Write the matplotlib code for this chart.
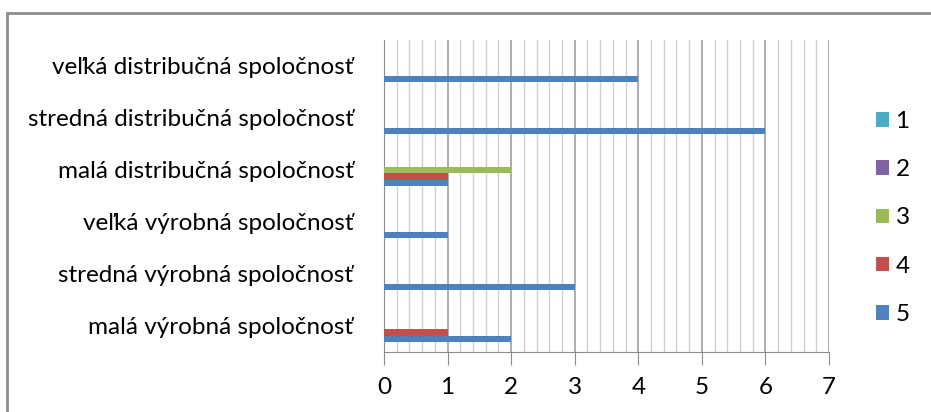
import numpy as np
import matplotlib.pyplot as plt
from matplotlib.patches import Rectangle

categories = ["malá výrobná spoločnosť", "stredná výrobná spoločnosť", "veľká výrobná spoločnosť",
              "malá distribučná spoločnosť", "stredná distribučná spoločnosť", "veľká distribučná spoločnosť"]
series_names = ["1", "2", "3", "4", "5"]
s1 = [0, 0, 0, 0, 0, 0]
s2 = [0, 0, 0, 0, 0, 0]
s3 = [0, 0, 0, 2, 0, 0]
s4 = [1, 0, 0, 1, 0, 0]
s5 = [2, 3, 1, 1, 6, 4]
colors = ["#4BACC6", "#8064A2", "#9BBB59", "#C0504D", "#4F81BD"]

plt.rcParams['font.family'] = ['Lato', 'DejaVu Sans']
fs = 17.5

fig = plt.figure(figsize=(9.31, 4.12), dpi=100)
ax = fig.add_axes([384 / 931, 1 - 352 / 412, 445 / 931, 312 / 412])

# cadre extérieur (partiellement coupé)
fig.patches.append(Rectangle((7 / 931, -0.1), 1.1, 1 - 13 / 412 + 0.1, transform=fig.transFigure,
                             fill=False, edgecolor="#8c8c8c", linewidth=2))

y = np.arange(len(categories))
h = 0.125
all_series = [s1, s2, s3, s4, s5]
handles = []
for i, vals in enumerate(all_series):
    # série 5 en bas, série 1 en haut
    offs = (2 - i) * h
    b = ax.barh(y + offs, vals, height=h, color=colors[i], label=series_names[i], zorder=3)
    handles.append(b)

ax.set_xlim(0, 7)
ax.set_ylim(-0.5, len(categories) - 0.5)
ax.set_xticks(range(8))
ax.set_xticks(np.arange(0, 7.01, 0.2), minor=True)
ax.grid(True, axis="x", which="major", color="#a0a0a0", linewidth=1.2, zorder=0)
ax.grid(True, axis="x", which="minor", color="#cfcfcf", linewidth=1.0, zorder=0)
ax.tick_params(axis="x", which="minor", length=0)
ax.tick_params(axis="x", which="major", length=9, color="#8c8c8c", labelsize=fs, pad=9)
ax.set_yticks(y)
ax.set_yticklabels(categories, fontsize=fs)
ax.tick_params(axis="y", length=0, pad=22)
for s in ["top", "right"]:
    ax.spines[s].set_visible(False)
ax.spines["left"].set_color("#8c8c8c")
ax.spines["bottom"].set_color("#8c8c8c")

ax.legend(handles, series_names, loc="center left", bbox_to_anchor=(876 / 931, 1 - 218 / 412),
          bbox_transform=fig.transFigure, frameon=False, fontsize=fs,
          handlelength=0.55, handleheight=0.55, handletextpad=0.25, labelspacing=1.12,
          borderpad=0, borderaxespad=0)

fig.savefig("out.png", dpi=100)
